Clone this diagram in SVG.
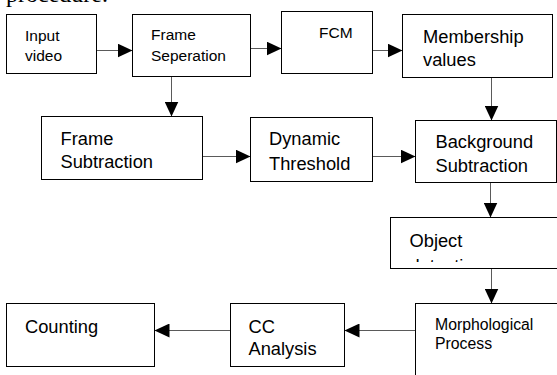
<svg xmlns="http://www.w3.org/2000/svg" width="557" height="375" viewBox="0 0 557 375">
  <style>
    .box { fill: #fff; stroke: #000; stroke-width: 1; }
    .lbl { font-family: "Liberation Sans", Arial, sans-serif; fill: #000; }
    .sm { font-size: 15.5px; }
    .lg { font-size: 18.3px; }
    .wire { fill: none; stroke: #5a5a5a; stroke-width: 1; marker-end: url(#head); }
    .body { font-family: "Liberation Serif", "Times New Roman", serif; font-size: 24px; fill: #000; }
  </style>
  <defs>
    <marker id="head" markerUnits="userSpaceOnUse" markerWidth="15" markerHeight="14" refX="15" refY="7" orient="auto">
      <path d="M0,0 L15,7 L0,14 Z" fill="#000"/>
    </marker>
    <clipPath id="objClip">
      <rect x="391" y="218" width="170" height="44"/>
    </clipPath>
  </defs>

  <rect width="557" height="375" fill="#fff"/>

  <!-- running text above the chart, mostly cut off by the page top -->
  <text class="body" x="6" y="2">procedure.</text>

  <g id="connectors">
    <path class="wire" d="M96.5,50.5 H132.5"/>
    <path class="wire" d="M250.5,48.5 H281.5"/>
    <path class="wire" d="M372.5,50.5 H402.5"/>
    <path class="wire" d="M171.5,76.5 V116.5"/>
    <path class="wire" d="M491.5,77.5 V120.5"/>
    <path class="wire" d="M202.5,156.5 H250.5"/>
    <path class="wire" d="M372.5,156.5 H415.5"/>
    <path class="wire" d="M490.5,182.5 V217.5"/>
    <path class="wire" d="M491.5,268.5 V303.5"/>
    <path class="wire" d="M415.5,330.5 H344.5"/>
    <path class="wire" d="M230.5,330.5 H154.5"/>
  </g>

  <g id="input-video">
    <rect class="box" x="6.5" y="14.5" width="90" height="59"/>
    <text class="lbl sm" x="25" y="41">Input</text>
    <text class="lbl sm" x="25" y="61">video</text>
  </g>

  <g id="frame-seperation">
    <rect class="box" x="132.5" y="14.5" width="118" height="62"/>
    <text class="lbl sm" x="151" y="40">Frame</text>
    <text class="lbl sm" x="151" y="60.5">Seperation</text>
  </g>

  <g id="fcm">
    <rect class="box" x="281.5" y="11.5" width="91" height="62"/>
    <text class="lbl sm" x="319" y="37.5">FCM</text>
  </g>

  <g id="membership-values">
    <rect class="box" x="402.5" y="14.5" width="150" height="63"/>
    <text class="lbl lg" x="423" y="43">Membership</text>
    <text class="lbl lg" x="423" y="65.5">values</text>
  </g>

  <g id="frame-subtraction">
    <rect class="box" x="41.5" y="116.5" width="161" height="63"/>
    <text class="lbl lg" x="60.5" y="145">Frame</text>
    <text class="lbl lg" x="60.5" y="168">Subtraction</text>
  </g>

  <g id="dynamic-threshold">
    <rect class="box" x="250.5" y="117.5" width="122" height="64"/>
    <text class="lbl lg" x="269" y="145">Dynamic</text>
    <text class="lbl lg" x="269" y="170">Threshold</text>
  </g>

  <g id="background-subtraction">
    <rect class="box" x="415.5" y="120.5" width="141" height="62"/>
    <text class="lbl lg" x="435.5" y="147.5">Background</text>
    <text class="lbl lg" x="435.5" y="172">Subtraction</text>
  </g>

  <g id="object-detection">
    <rect class="box" x="390.5" y="217.5" width="175" height="51"/>
    <!-- second line overflows the box and is clipped to its ascender tips -->
    <g clip-path="url(#objClip)">
      <text class="lbl lg" x="409.5" y="246.5">Object</text>
      <text class="lbl lg" x="409.5" y="271.5">detection</text>
    </g>
  </g>

  <g id="morphological-process">
    <rect class="box" x="415.5" y="303.5" width="150" height="80"/>
    <text class="lbl" font-size="15.8" x="435" y="329.5">Morphological</text>
    <text class="lbl" font-size="15.8" x="435" y="348.5">Process</text>
  </g>

  <g id="cc-analysis">
    <rect class="box" x="230.5" y="303.5" width="114" height="63"/>
    <text class="lbl lg" x="248.5" y="332.5">CC</text>
    <text class="lbl lg" x="248.5" y="355">Analysis</text>
  </g>

  <g id="counting">
    <rect class="box" x="6.5" y="303.5" width="148" height="63"/>
    <text class="lbl lg" x="25" y="332.5">Counting</text>
  </g>
</svg>
